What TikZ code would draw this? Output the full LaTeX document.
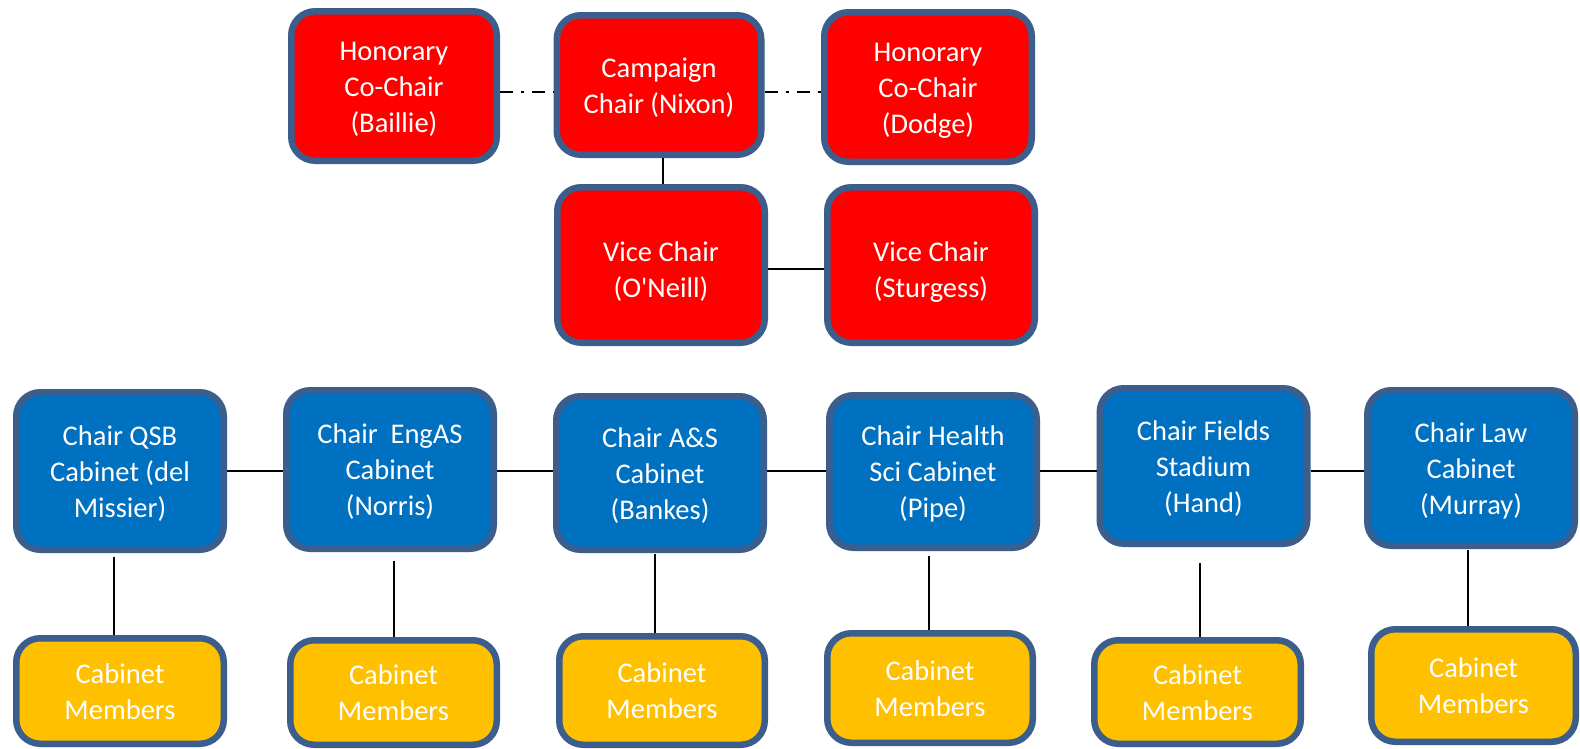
\documentclass[tikz,border=0pt]{standalone}
\usepackage{fontspec}
\setmainfont{Carlito}[Ligatures=TeXOff]
\definecolor{bordc}{RGB}{60,94,140}
\definecolor{redf}{RGB}{255,0,0}
\definecolor{bluef}{RGB}{0,112,192}
\definecolor{yelf}{RGB}{255,192,0}
\newcommand{\bxt}[1]{\begin{tabular}[b]{@{}c@{}}#1\end{tabular}}
\begin{document}
\begin{tikzpicture}[x=1pt,y=-1pt,
  box/.style={draw=bordc,line width=6.5pt,rounded corners=24pt,text=white,
    inner sep=0pt,font=\fontsize{28.5}{36}\selectfont,text depth=0pt},
  three/.style={text height=92pt},
  two/.style={text height=56pt},
  redbox/.style={box,fill=redf},
  bluebox/.style={box,fill=bluef,three},
  yelbox/.style={box,fill=yelf,two},
  sz/.style 2 args={minimum width=#1pt-6.5pt,minimum height=#2pt-6.5pt},
  conn/.style={draw=black,line width=2.4pt},
  dashconn/.style={draw=black,line width=2.4pt,dash pattern=on 13pt off 8pt on 3pt off 8pt}]
\useasboundingbox (0,0) rectangle (1580,748);
\fill[white] (0,0) rectangle (1580,748);
% top red
\node[redbox,three,sz={212}{156}] (hb) at (394,86) {\bxt{Honorary\\Co-Chair\\(Baillie)}};
\node[redbox,two,sz={211}{146}] (cc) at (659,85) {\bxt{Campaign\\Chair (Nixon)}};
\node[redbox,three,sz={214}{156}] (hd) at (928,87) {\bxt{Honorary\\Co-Chair\\(Dodge)}};
\node[redbox,text height=64pt,sz={214}{162}] (vo) at (661,265) {\bxt{Vice Chair\\(O'Neill)}};
\node[redbox,text height=64pt,sz={214}{162}] (vs) at (931,265) {\bxt{Vice Chair\\(Sturgess)}};
% blue
\node[bluebox,sz={214}{164}] (b1) at (120,471) {\bxt{Chair QSB\\Cabinet (del\\Missier)}};
\node[bluebox,sz={214}{165}] (b2) at (390,469.5) {\bxt{Chair\ \ EngAS\\Cabinet\\(Norris)}};
\node[bluebox,sz={214}{160}] (b3) at (660,473) {\bxt{Chair A\&S\\Cabinet\\(Bankes)}};
\node[bluebox,sz={214}{159}] (b4) at (933,471.5) {\bxt{Chair Health\\Sci Cabinet\\(Pipe)}};
\node[bluebox,sz={214}{162}] (b5) at (1203.5,466) {\bxt{Chair Fields\\Stadium\\(Hand)}};
\node[bluebox,sz={214}{162}] (b6) at (1471,468) {\bxt{Chair Law\\Cabinet\\(Murray)}};
% yellow
\node[yelbox,sz={214}{112}] (y1) at (120,691) {\bxt{Cabinet\\Members}};
\node[yelbox,sz={213}{111}] (y2) at (393.5,692.5) {\bxt{Cabinet\\Members}};
\node[yelbox,sz={212}{115}] (y3) at (662,690.5) {\bxt{Cabinet\\Members}};
\node[yelbox,sz={212}{116}] (y4) at (930,688) {\bxt{Cabinet\\Members}};
\node[yelbox,sz={213}{110}] (y5) at (1197.5,692) {\bxt{Cabinet\\Members}};
\node[yelbox,sz={211}{119}] (y6) at (1473.5,685.5) {\bxt{Cabinet\\Members}};
% free ends of the drop lines
\coordinate (t1) at (114,557);
\coordinate (t2) at (394,561);
\coordinate (t3) at (655,554);
\coordinate (t4) at (929,556);
\coordinate (t5) at (1200,563);
\coordinate (t6) at (1468,550);
\coordinate (ct) at (663,158);
\coordinate (cb) at (663,184);
% connectors top
\draw[dashconn] (hb.east |- 0,92) -- (cc.west |- 0,92);
\draw[dashconn] (cc.east |- 0,92) -- (hd.west |- 0,92);
\draw[conn] (ct) -- (cb);
\draw[conn] (vo.east |- 0,269) -- (vs.west |- 0,269);
% blue row
\draw[conn] (b1.east |- 0,471) -- (b2.west |- 0,471);
\draw[conn] (b2.east |- 0,471) -- (b3.west |- 0,471);
\draw[conn] (b3.east |- 0,471) -- (b4.west |- 0,471);
\draw[conn] (b4.east |- 0,471) -- (b5.west |- 0,471);
\draw[conn] (b5.east |- 0,471) -- (b6.west |- 0,471);
% drops
\draw[conn] (t1) -- (t1 |- y1.north);
\draw[conn] (t2) -- (t2 |- y2.north);
\draw[conn] (t3) -- (t3 |- y3.north);
\draw[conn] (t4) -- (t4 |- y4.north);
\draw[conn] (t5) -- (t5 |- y5.north);
\draw[conn] (t6) -- (t6 |- y6.north);
\end{tikzpicture}
\end{document}
